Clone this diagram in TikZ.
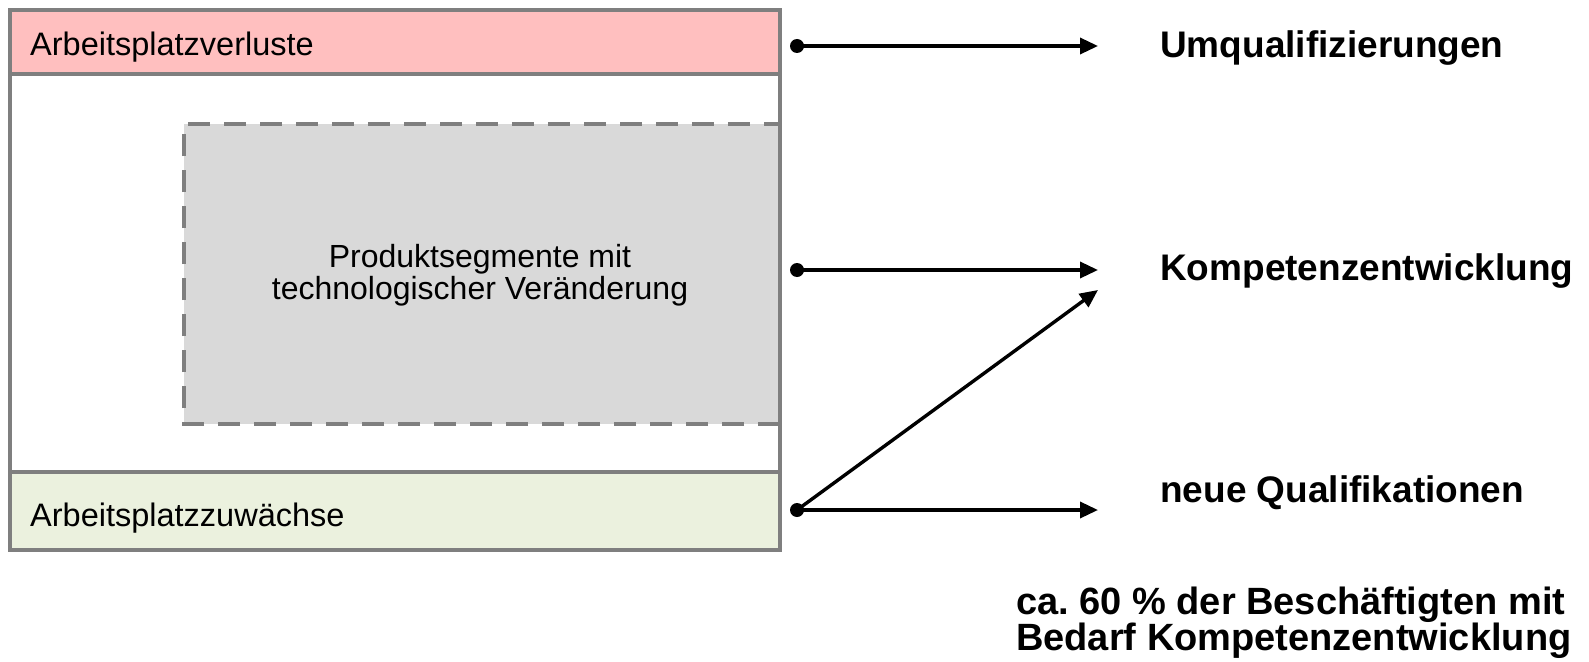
\documentclass[tikz,border=0pt]{standalone}
\usepackage{fontspec}
\setmainfont{Liberation Sans}
\usetikzlibrary{arrows.meta}

\definecolor{rahmen}{HTML}{7F7F7F}
\definecolor{verlust}{HTML}{FFBFBF}
\definecolor{zuwachs}{HTML}{EBF1DE}
\definecolor{segment}{HTML}{D9D9D9}

\tikzset{
  band/.style={draw=rahmen,line width=4.5pt},
  normaltext/.style={font=\fontsize{32.5}{32}\selectfont,inner sep=0pt},
  fetttext/.style={font=\fontsize{37}{36}\selectfont\bfseries,inner sep=0pt,anchor=west,align=left},
  pfeil/.style={draw=black,line width=3.4pt,-{Triangle[length=18pt,width=16pt]}},
}

\begin{document}
\frenchspacing
\begin{tikzpicture}[x=1pt,y=-1pt]
      \useasboundingbox (0,0) rectangle (1589,661);
      % Rahmen und Bänder
      \draw[band,fill=white]   (10,74)  rectangle (780,472);
      \fill[segment] (184,124) rectangle (780,424);
      \draw[rahmen,line width=4.5pt,dash pattern=on 22pt off 14pt] (780,424) -- (184,424) -- (184,124) -- (780,124);
      \draw[rahmen,line width=4.5pt] (780,74) -- (780,472);
      \draw[band,fill=verlust] (10,10)  rectangle (780,74);
      \draw[band,fill=zuwachs] (10,472) rectangle (780,550);
      \begin{scope}[every node/.style={normaltext}]
        \node[anchor=west] (verluste)  at (30,47)  {Arbeitsplatzverluste};
        \node[anchor=west] (zuwaechse) at (30,518) {Arbeitsplatzzuwächse};
        \node[align=center,font=\fontsize{32}{32}\selectfont] (produkt) at (480,275) {Produktsegmente mit\\technologischer Veränderung};
      \end{scope}
      % Ziele rechts
      \begin{scope}[every node/.style={fetttext}]
        \node (umq)  at (1160,48)  {Umqualifizierungen};
        \node (komp) at (1160,271) {Kompetenzentwicklung};
        \node (neu)  at (1160,493) {neue Qualifikationen};
        \node[font=\fontsize{38}{36}\selectfont\bfseries] (anteil) at (1016,623) {ca. 60~\% der Beschäftigten mit\\Bedarf Kompetenzentwicklung};
      \end{scope}
      \coordinate (d1) at (797,46);   \coordinate (e1) at (1098,46);
      \coordinate (d2) at (797,270);  \coordinate (e2) at (1098,270);
      \coordinate (d3) at (797,510);  \coordinate (e3) at (1098,510);
      \coordinate (e4) at (1098,290);
      \begin{scope}[every edge/.style={pfeil}]
        \path (d1) edge (e1);
        \path (d2) edge (e2);
        \path (d3) edge (e3);   \path (d3) edge (e4);
      \end{scope}
      \foreach \d in {d1,d2,d3}
        \fill (\d) circle (7pt);
    \end{tikzpicture}
\end{document}
